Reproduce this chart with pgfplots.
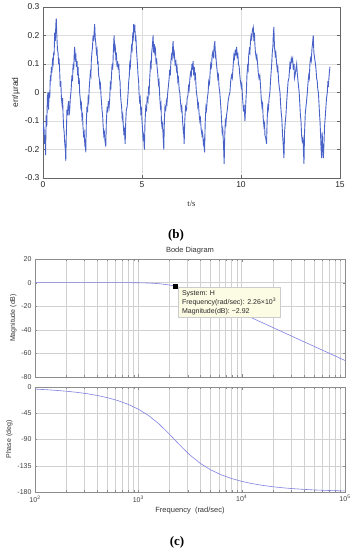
\documentclass[border=0pt]{standalone}
\usepackage{pgfplots}
\pgfplotsset{compat=1.18}
\usepackage{fontspec}
\setmainfont{Liberation Sans}
\newfontfamily\serifb{Liberation Serif}
\definecolor{sig}{RGB}{72,98,200}
\definecolor{bode}{RGB}{128,128,228}
\definecolor{tipfill}{RGB}{252,252,228}
\definecolor{gridc}{RGB}{222,222,222}
\pgfplotstableread{
t v
0.00 -0.10
0.03 -0.14
0.05 -0.12
0.07 -0.18
0.10 -0.15
0.13 -0.22
0.16 -0.08
0.19 -0.12
0.22 -0.02
0.25 0.00
0.28 -0.06
0.31 0.00
0.34 -0.02
0.37 0.06
0.40 0.04
0.42 0.09
0.45 0.07
0.48 0.11
0.51 0.10
0.54 0.14
0.56 0.13
0.59 0.21
0.62 0.18
0.65 0.24
0.67 0.26
0.70 0.20
0.73 0.15
0.76 0.14
0.79 0.10
0.81 0.12
0.84 0.08
0.87 0.02
0.90 0.04
0.93 -0.02
0.96 -0.04
0.99 -0.02
1.01 -0.07
1.04 -0.12
1.07 -0.14
1.10 -0.18
1.13 -0.20
1.15 -0.24
1.18 -0.14
1.21 -0.06
1.24 -0.08
1.26 -0.05
1.29 -0.03
1.32 -0.08
1.35 -0.06
1.38 -0.02
1.41 0.00
1.43 0.02
1.46 0.06
1.49 0.04
1.52 0.10
1.55 0.08
1.58 0.14
1.60 0.16
1.63 0.12
1.66 0.13
1.69 0.09
1.72 0.11
1.75 0.06
1.77 0.09
1.80 0.03
1.83 0.05
1.85 0.00
1.88 -0.02
1.91 -0.05
1.94 -0.04
1.97 -0.09
2.00 -0.08
2.02 -0.12
2.05 -0.15
2.08 -0.14
2.11 -0.18
2.14 -0.17
2.16 -0.21
2.19 -0.10
2.22 -0.05
2.25 -0.07
2.28 -0.02
2.31 -0.03
2.33 0.01
2.36 0.04
2.39 0.07
2.42 0.06
2.44 0.11
2.47 0.14
2.50 0.16
2.53 0.20
2.56 0.18
2.59 0.22
2.61 0.24
2.64 0.19
2.67 0.17
2.70 0.14
2.73 0.15
2.76 0.10
2.78 0.11
2.81 0.06
2.84 0.05
2.87 0.02
2.90 0.03
2.93 -0.01
2.95 -0.03
2.98 -0.06
3.01 -0.08
3.04 -0.12
3.07 -0.15
3.10 -0.14
3.13 -0.17
3.17 -0.19
3.20 -0.10
3.24 -0.05
3.27 -0.07
3.30 -0.03
3.34 -0.05
3.37 -0.02
3.40 0.03
3.43 0.02
3.46 0.06
3.49 0.10
3.52 0.08
3.55 0.14
3.57 0.17
3.59 0.20
3.62 0.15
3.65 0.16
3.68 0.12
3.71 0.13
3.74 0.09
3.77 0.11
3.80 0.08
3.83 0.10
3.86 0.05
3.89 0.04
3.91 0.00
3.94 -0.03
3.97 -0.05
4.00 -0.09
4.03 -0.08
4.05 -0.11
4.08 -0.14
4.11 -0.13
4.15 -0.18
4.18 -0.10
4.21 -0.06
4.25 -0.05
4.28 -0.02
4.30 0.00
4.33 0.04
4.36 0.06
4.38 0.10
4.41 0.09
4.44 0.13
4.47 0.16
4.50 0.15
4.53 0.20
4.56 0.19
4.58 0.24
4.61 0.22
4.64 0.23
4.67 0.18
4.69 0.20
4.72 0.15
4.75 0.12
4.77 0.10
4.80 0.06
4.83 0.04
4.85 0.00
4.88 -0.03
4.91 -0.02
4.94 -0.07
4.97 -0.06
5.00 -0.10
5.02 -0.12
5.05 -0.16
5.08 -0.15
5.12 -0.20
5.15 -0.11
5.19 -0.05
5.23 -0.06
5.26 -0.02
5.30 -0.03
5.33 0.01
5.36 0.00
5.39 0.05
5.43 0.10
5.46 0.09
5.49 0.14
5.52 0.16
5.56 0.20
5.59 0.14
5.62 0.17
5.65 0.14
5.68 0.15
5.71 0.10
5.74 0.12
5.76 0.09
5.79 0.07
5.83 0.03
5.86 0.04
5.90 -0.02
5.93 -0.05
5.96 -0.04
5.98 -0.10
6.01 -0.12
6.04 -0.11
6.07 -0.16
6.10 -0.20
6.13 -0.10
6.16 -0.05
6.20 -0.06
6.23 -0.03
6.26 -0.04
6.30 0.00
6.33 0.02
6.37 0.05
6.40 0.08
6.43 0.06
6.46 0.11
6.49 0.13
6.52 0.12
6.55 0.16
6.57 0.18
6.60 0.13
6.63 0.14
6.67 0.10
6.71 0.11
6.74 0.08
6.77 0.09
6.81 0.04
6.84 0.05
6.88 0.01
6.91 0.00
6.94 -0.03
6.98 -0.06
7.01 -0.05
7.05 -0.10
7.08 -0.13
7.10 -0.12
7.13 -0.18
7.16 -0.10
7.20 -0.05
7.25 -0.06
7.28 -0.02
7.32 -0.01
7.35 0.02
7.38 0.01
7.42 0.05
7.45 0.07
7.49 0.06
7.52 0.10
7.55 0.08
7.58 0.11
7.61 0.06
7.64 0.09
7.67 0.05
7.70 0.06
7.73 0.02
7.75 0.00
7.79 -0.02
7.82 -0.05
7.85 -0.04
7.89 -0.08
7.92 -0.10
7.95 -0.09
7.99 -0.13
8.03 -0.15
8.06 -0.14
8.10 -0.18
8.13 -0.17
8.16 -0.21
8.19 -0.11
8.23 -0.05
8.26 -0.06
8.30 -0.02
8.34 0.00
8.37 0.04
8.41 0.03
8.44 0.07
8.47 0.10
8.51 0.09
8.54 0.13
8.57 0.14
8.61 0.12
8.64 0.16
8.68 0.18
8.71 0.12
8.73 0.13
8.76 0.10
8.79 0.08
8.83 0.05
8.86 0.06
8.89 0.02
8.93 0.00
8.96 -0.03
8.99 -0.06
9.02 -0.10
9.05 -0.14
9.08 -0.13
9.12 -0.19
9.15 -0.25
9.18 -0.15
9.21 -0.10
9.24 -0.11
9.27 -0.08
9.31 -0.06
9.35 -0.03
9.40 -0.01
9.44 0.00
9.48 0.04
9.52 0.06
9.56 0.05
9.61 0.10
9.64 0.13
9.67 0.12
9.71 0.15
9.74 0.13
9.78 0.16
9.81 0.12
9.84 0.14
9.87 0.10
9.91 0.09
9.94 0.06
9.97 0.04
10.01 0.02
10.04 0.03
10.08 -0.02
10.12 -0.06
10.16 -0.05
10.20 -0.10
10.24 -0.04
10.27 0.00
10.30 0.06
10.33 0.09
10.36 0.08
10.39 0.13
10.42 0.15
10.45 0.14
10.48 0.18
10.51 0.20
10.54 0.19
10.58 0.22
10.62 0.23
10.65 0.18
10.68 0.21
10.70 0.17
10.73 0.14
10.77 0.12
10.80 0.13
10.84 0.10
10.87 0.07
10.91 0.05
10.95 0.06
10.99 0.02
11.02 -0.02
11.06 -0.05
11.09 -0.04
11.12 -0.09
11.16 -0.12
11.19 -0.11
11.21 -0.15
11.25 -0.16
11.29 -0.18
11.32 -0.10
11.35 -0.05
11.38 -0.06
11.42 -0.02
11.46 0.00
11.49 0.04
11.52 0.07
11.55 0.10
11.58 0.14
11.61 0.16
11.63 0.20
11.66 0.23
11.69 0.16
11.73 0.13
11.76 0.14
11.80 0.10
11.83 0.08
11.86 0.09
11.90 0.04
11.93 0.02
11.97 0.00
12.00 -0.04
12.03 -0.07
12.06 -0.09
12.10 -0.15
12.13 -0.18
12.17 -0.23
12.20 -0.14
12.24 -0.10
12.27 -0.08
12.31 -0.03
12.34 0.00
12.38 0.04
12.42 0.05
12.47 0.10
12.50 0.09
12.54 0.12
12.57 0.11
12.61 0.12
12.64 0.08
12.68 0.10
12.70 0.05
12.73 0.06
12.77 0.08
12.81 0.10
12.84 0.07
12.88 0.04
12.91 0.02
12.94 0.00
12.97 -0.04
13.00 -0.08
13.03 -0.10
13.06 -0.15
13.09 -0.17
13.13 -0.16
13.18 -0.25
13.21 -0.14
13.25 -0.07
13.28 -0.05
13.31 -0.03
13.35 0.00
13.38 0.03
13.42 0.06
13.45 0.05
13.48 0.10
13.51 0.12
13.55 0.11
13.58 0.15
13.61 0.17
13.65 0.20
13.68 0.14
13.72 0.12
13.76 0.10
13.79 0.08
13.82 0.05
13.85 0.04
13.88 0.01
13.91 0.00
13.94 -0.04
13.97 -0.08
13.99 -0.10
14.02 -0.15
14.04 -0.19
14.07 -0.23
14.10 -0.14
14.13 -0.20
14.16 -0.23
14.19 -0.18
14.22 -0.12
14.26 -0.08
14.29 -0.05
14.32 -0.02
14.36 0.00
14.39 0.04
14.41 0.02
14.45 0.06
14.49 0.09
}\errdata
\pgfplotstableread{
f db
100 0.00
125.9 0.00
158.5 0.00
199.5 0.00
251.2 0.00
316.2 0.00
398.1 0.00
501.2 0.00
631.0 -0.01
794.3 -0.05
1000 -0.14
1259 -0.36
1585 -0.90
1995 -2.04
2260 -2.92
2512 -4.04
3162 -6.90
3981 -10.36
5012 -14.13
6310 -18.04
7943 -22.01
10000 -26.00
12589 -30.00
15849 -34.00
19953 -38.00
25119 -42.00
31623 -46.00
39811 -50.00
50119 -54.00
63096 -58.00
79433 -62.00
100000 -66.00
}\magdata
\pgfplotstableread{
f ph
100 -3.59
125.9 -4.52
158.5 -5.69
199.5 -7.17
251.2 -9.04
316.2 -11.41
398.1 -14.42
501.2 -18.26
631.0 -23.20
794.3 -29.60
1000 -37.99
1259 -49.01
1585 -63.28
1995 -80.63
2512 -99.35
3162 -116.70
3981 -130.96
5012 -142.00
6310 -150.38
7943 -156.79
10000 -161.74
12589 -165.58
15849 -168.59
19953 -170.96
25119 -172.83
31623 -174.31
39811 -175.48
50119 -176.41
63096 -177.15
79433 -177.74
100000 -178.20
}\phdata
\begin{document}
\begin{tikzpicture}
\path[use as bounding box] (0,0) rectangle (355pt,550pt);
% ---------- (b) time series ----------
\begin{axis}[
  at={(43pt,372pt)}, anchor=south west,
  scale only axis, width=297pt, height=171pt,
  xmin=0, xmax=15, ymin=-0.3, ymax=0.3,
  xtick={0,5,10,15}, ytick={-0.3,-0.2,-0.1,0,0.1,0.2,0.3},
  yticklabels={-0.3,-0.2,-0.1,0,0.1,0.2,0.3},
  grid=major, major grid style={gridc, line width=0.5pt},
  axis line style={black!60, line width=0.5pt},
  tick style={black!60},
  major tick length=3pt,
  ticklabel style={font=\fontsize{8.5}{10}\selectfont, text=black!85},
  /pgf/number format/assume math mode=true,
  xlabel={\serifb t/s}, ylabel={err/\textmu rad},
  label style={font=\fontsize{8.5}{10}\selectfont, text=black!85},
  xlabel style={yshift=-6pt},
  ylabel style={yshift=-2pt},
]
\addplot[sig, line width=0.9pt] table[x=t, y=v] {\errdata};
\end{axis}
\node[font=\serifb\bfseries\fontsize{13}{15}\selectfont] at (176pt,315pt) {(b)};
% ---------- (c) Bode magnitude ----------
\begin{axis}[
  at={(35pt,173pt)}, anchor=south west,
  scale only axis, width=310pt, height=118pt,
  xmode=log, xmin=100, xmax=100000,
  ymin=-80, ymax=20,
  ytick={-80,-60,-40,-20,0,20},
  yticklabels={-80,-60,-40,-20,0,20},
  xticklabels={},
  grid=both, major grid style={black!18, line width=0.4pt},
  minor grid style={black!18, line width=0.4pt},
  yminorgrids=false,
  axis line style={black!45, line width=0.4pt},
  tick style={black!45},
  major tick length=2.5pt, minor tick length=2pt,
  ticklabel style={font=\fontsize{7}{8}\selectfont, text=black!75},
  ylabel={Magnitude (dB)},
  ylabel style={font=\fontsize{7}{8}\selectfont, text=black!80, yshift=-2pt},
  title={Bode Diagram},
  title style={font=\fontsize{7.5}{9}\selectfont, text=black!80, yshift=-5pt},
]
\addplot[bode, line width=0.6pt] table[x=f, y=db] {\magdata};
\node[anchor=north west, fill=tipfill, draw=black!20, line width=0.3pt,
  font=\fontsize{7}{9}\selectfont, text=black!85, align=left,
  inner xsep=4pt, inner ysep=3pt, xshift=3pt, yshift=-1pt]
  at (axis cs:2260,-2.92)
  {System: H\\Frequency(rad/sec): 2.26\texttimes 10\textsuperscript{3}\\Magnitude(dB): −2.92};
\addplot[only marks, mark=square*, mark size=2.2pt, black] coordinates {(2260,-2.92)};
\end{axis}
% ---------- (c) Bode phase ----------
\begin{axis}[
  at={(35pt,58pt)}, anchor=south west,
  scale only axis, width=310pt, height=105pt,
  xmode=log, xmin=100, xmax=100000,
  ymin=-180, ymax=0,
  ytick={-180,-135,-90,-45,0},
  yticklabels={-180,-135,-90,-45,0},
  xtick={100,1000,10000,100000},
  xticklabels={10\textsuperscript{2},10\textsuperscript{3},10\textsuperscript{4},10\textsuperscript{5}},
  grid=both, major grid style={black!18, line width=0.4pt},
  minor grid style={black!18, line width=0.4pt},
  yminorgrids=false,
  axis line style={black!45, line width=0.4pt},
  tick style={black!45},
  major tick length=2.5pt, minor tick length=2pt,
  ticklabel style={font=\fontsize{7}{8}\selectfont, text=black!75},
  ylabel={Phase (deg)},
  ylabel style={font=\fontsize{7}{8}\selectfont, text=black!80, yshift=-2pt},
  xlabel={Frequency~~(rad/sec)},
  xlabel style={font=\fontsize{7.5}{9}\selectfont, text=black!80, yshift=2pt},
]
\addplot[bode, line width=0.6pt] table[x=f, y=ph] {\phdata};
\end{axis}
\node[font=\serifb\bfseries\fontsize{13}{15}\selectfont] at (177pt,8pt) {(c)};
\end{tikzpicture}
\end{document}
